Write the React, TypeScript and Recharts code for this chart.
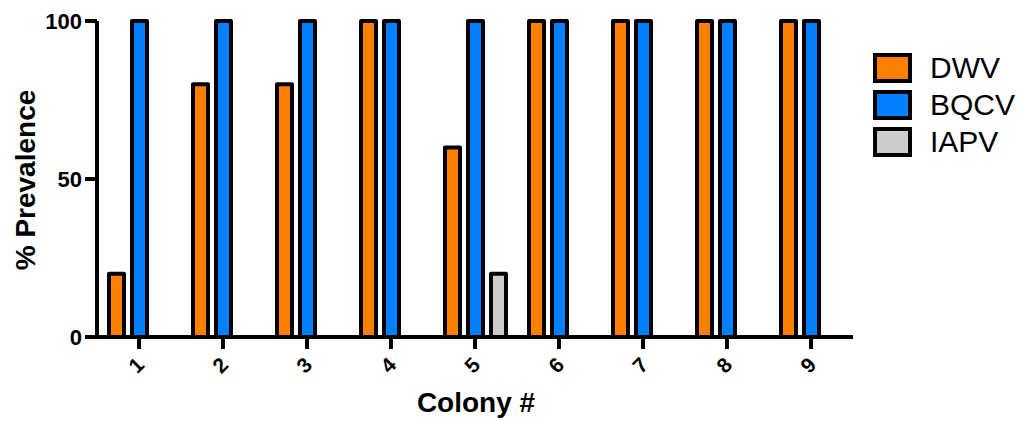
import React from 'react';
import { BarChart, Bar, XAxis, YAxis } from 'recharts';

// Virus prevalence per colony (%)
const colonies = ['1', '2', '3', '4', '5', '6', '7', '8', '9'];
const dwv = [20, 80, 80, 100, 60, 100, 100, 100, 100];
const bqcv = [100, 100, 100, 100, 100, 100, 100, 100, 100];
const iapv = [0, 0, 0, 0, 20, 0, 0, 0, 0];
const yTicks = [0, 50, 100];

const seriesNames = ['DWV', 'BQCV', 'IAPV'];
const seriesColors = ['#FF7F00', '#0080FF', '#CCCCCC'];

const data = colonies.map((c, i) => ({
  colony: c,
  DWV: dwv[i],
  BQCV: bqcv[i],
  IAPV: iapv[i],
}));

const FONT = '"Liberation Sans", Arial, sans-serif';

const XTick = (props: any) => {
  const { x, y, payload } = props;
  return (
    <text
      x={x - 3}
      y={y + 14}
      transform={`rotate(-45, ${x - 3}, ${y + 14})`}
      textAnchor="middle"
      dominantBaseline="central"
      fontFamily={FONT}
      fontWeight="bold"
      fontSize={21}
      fill="#000"
    >
      {payload.value}
    </text>
  );
};

const YTick = (props: any) => {
  const { x, y, payload } = props;
  return (
    <text
      x={x - 1}
      y={y}
      textAnchor="end"
      dominantBaseline="central"
      fontFamily={FONT}
      fontWeight="bold"
      fontSize={22}
      fill="#000"
    >
      {payload.value}
    </text>
  );
};

const LegendBox = () => (
  <div style={{ position: 'absolute', left: 873, top: 49, fontFamily: FONT }}>
    {seriesNames.map((name, i) => (
      <div
        key={name}
        style={{ display: 'flex', alignItems: 'center', height: 37 }}
      >
        <div
          style={{
            width: 31,
            height: 22,
            background: seriesColors[i],
            border: '4px solid #000',
          }}
        />
        <span style={{ marginLeft: 18, fontSize: 30, color: '#000', lineHeight: '30px' }}>
          {name}
        </span>
      </div>
    ))}
  </div>
);

export default function App() {
  return (
    <div style={{ position: 'absolute', left: 0, top: 0, width: 1022, height: 421, background: '#fff' }}>
      <BarChart
        width={1022}
        height={421}
        data={data}
        margin={{ top: 21, right: 169, left: 0, bottom: 0 }}
        barSize={15}
        barGap={8}
      >
        <XAxis
          dataKey="colony"
          height={84}
          tick={<XTick />}
          tickLine={{ stroke: '#000', strokeWidth: 4 }}
          tickSize={12}
          axisLine={{ stroke: '#000', strokeWidth: 4 }}
          interval={0}
          label={() => (
            <text
              x={476}
              y={412}
              textAnchor="middle"
              fontFamily={FONT}
              fontWeight="bold"
              fontSize={28}
              fill="#000"
            >
              Colony #
            </text>
          )}
        />
        <YAxis
          width={97}
          domain={[0, 100]}
          ticks={yTicks}
          tick={<YTick />}
          tickLine={{ stroke: '#000', strokeWidth: 4 }}
          tickSize={12}
          axisLine={{ stroke: '#000', strokeWidth: 4 }}
          label={() => (
            <text
              x={35}
              y={180}
              transform="rotate(-90, 35, 180)"
              textAnchor="middle"
              fontFamily={FONT}
              fontWeight="bold"
              fontSize={28}
              fill="#000"
            >
              % Prevalence
            </text>
          )}
        />
        {seriesNames.map((name, i) => (
          <Bar
            key={name}
            dataKey={name}
            fill={seriesColors[i]}
            stroke="#000"
            strokeWidth={4}
            strokeLinejoin="round"
            isAnimationActive={false}
          />
        ))}
      </BarChart>
      <LegendBox />
    </div>
  );
}
